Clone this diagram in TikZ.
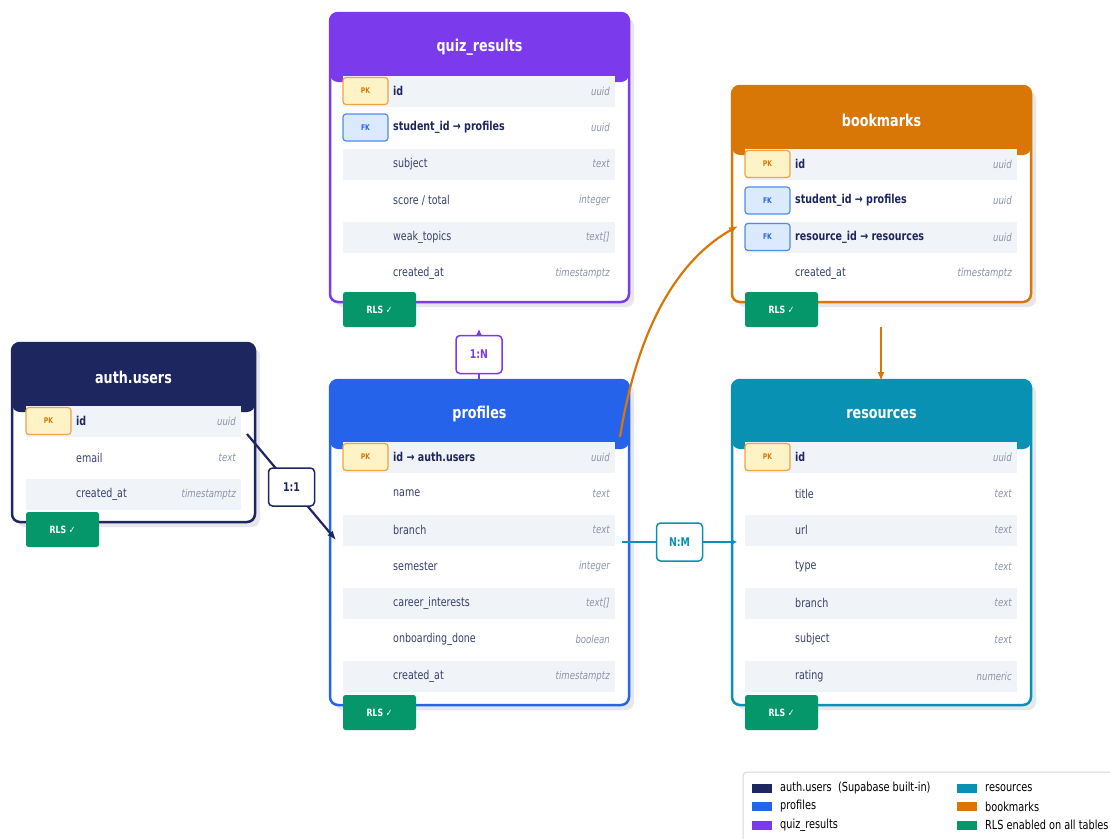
\documentclass[tikz,border=0pt]{standalone}
\usepackage{fontspec}
\setmainfont{DejaVu Sans}[FakeStretch=0.78]
\usetikzlibrary{arrows.meta}
\definecolor{navy}{HTML}{1E2660}
\definecolor{purp}{HTML}{7C3AED}
\definecolor{blu}{HTML}{2563EB}
\definecolor{orng}{HTML}{D97706}
\definecolor{teal}{HTML}{0891B2}
\definecolor{grn}{HTML}{059669}
\definecolor{shadowgray}{HTML}{E6E7EA}
\definecolor{shadec}{HTML}{F0F3F8}
\definecolor{fieldc}{HTML}{36426A}
\definecolor{boldc}{HTML}{1E2660}
\definecolor{typec}{HTML}{8A94AB}
\definecolor{pkfill}{HTML}{FEF3C7}
\definecolor{pkdraw}{HTML}{F0A443}
\definecolor{pktext}{HTML}{D97706}
\definecolor{fkfill}{HTML}{DBEAFE}
\definecolor{fkdraw}{HTML}{4F8CF0}
\definecolor{fktext}{HTML}{2563EB}
\definecolor{legdraw}{HTML}{D5D8DE}
\tikzset{
  titletext/.style={text=white,font=\fontsize{16.3}{18}\selectfont\bfseries,inner sep=0},
  fieldtext/.style={anchor=west,inner sep=0,text=fieldc,font=\fontsize{12.2}{14}\selectfont},
  typetext/.style={anchor=east,inner sep=0,text=typec,font=\fontsize{11}{13}\selectfont\itshape},
  pkbadge/.style={draw=pkdraw,fill=pkfill,line width=1.2pt,rounded corners=3pt,minimum width=45pt,minimum height=27pt,inner sep=0,text=pktext,font=\fontsize{7.8}{9}\selectfont\bfseries},
  fkbadge/.style={draw=fkdraw,fill=fkfill,line width=1.2pt,rounded corners=3pt,minimum width=45pt,minimum height=27pt,inner sep=0,text=fktext,font=\fontsize{7.8}{9}\selectfont\bfseries},
  rlsbadge/.style={fill=grn,rounded corners=2.5pt,minimum width=73pt,minimum height=35pt,inner sep=0,text=white,font=\fontsize{10}{12}\selectfont\bfseries},
  relbox/.style={draw=#1,fill=white,line width=1.5pt,rounded corners=4pt,minimum width=46pt,minimum height=38pt,inner sep=0,text=#1,font=\fontsize{12}{14}\selectfont\bfseries},
  rel/.style={draw=#1,line width=2.2pt},
  tip/.style={-{Latex[length=9pt,width=7pt]}},
  legtext/.style={anchor=west,inner sep=0,text=black,font=\fontsize{12.5}{14}\selectfont},
}
\newcommand{\erdtable}[7]{%
  \fill[shadowgray,rounded corners=8pt] (#3+5,#4+5) rectangle (#5+5,#6+5);
  \draw[draw=#2,line width=2.5pt,fill=white,rounded corners=8pt] (#3,#4) rectangle (#5,#6);
  \fill[#2,rounded corners=8pt] (#3,#4) rectangle (#5,#4+69);
  \node[titletext] (#1) at ({(#3+#5)/2},#4+34) {#7};
}
\newcommand{\shaderow}[3]{\fill[shadec] (#1+13,#3-15.5) rectangle (#2-14,#3+15.5);}
\newcommand{\erdfield}[6]{%
  \node[fieldtext] (#1) at (#2+63,#4) {#5};
  \node[typetext] (#1-t) at (#3-19,#4) {#6};
}
\newcommand{\rls}[3]{\node[rlsbadge] (#1) at (#2+49.5,#3+7.5) {RLS ✓};}
\begin{document}
\begin{tikzpicture}[x=1pt,y=-1pt]
\useasboundingbox (0,0) rectangle (1110,838);
\clip (0,0) rectangle (1110,838);
\fill[white] (0,0) rectangle (1110,838);

% ---------- auth.users ----------
\erdtable{auth}{navy}{12}{343}{255}{522}{auth.users}
\shaderow{13}{255}{421}
\shaderow{13}{255}{494}
\node[pkbadge] (auth-pk) at (48.5,421) {PK};
\erdfield{auth-id}{13}{255}{421}{\bfseries\color{boldc}id}{uuid}
\erdfield{auth-email}{13}{255}{457.5}{email}{text}
\erdfield{auth-cr}{13}{255}{494}{created\_at}{timestamptz}
\rls{auth-rls}{13}{522}

% ---------- quiz_results ----------
\erdtable{quiz}{purp}{330}{13}{629}{302}{quiz\_results}
\shaderow{330}{629}{91}
\shaderow{330}{629}{164}
\shaderow{330}{629}{237}
\node[pkbadge] (quiz-pk) at (365.5,91) {PK};
\node[fkbadge] (quiz-fk) at (365.5,127.5) {FK};
\erdfield{quiz-id}{330}{629}{91}{\bfseries\color{boldc}id}{uuid}
\erdfield{quiz-sid}{330}{629}{127.5}{\bfseries\color{boldc}student\_id → profiles}{uuid}
\erdfield{quiz-sub}{330}{629}{164}{subject}{text}
\erdfield{quiz-sc}{330}{629}{200.5}{score / total}{integer}
\erdfield{quiz-wt}{330}{629}{237}{weak\_topics}{text[]}
\erdfield{quiz-cr}{330}{629}{273.5}{created\_at}{timestamptz}
\rls{quiz-rls}{330}{302}

% ---------- profiles ----------
\erdtable{prof}{blu}{330}{380}{629}{705}{profiles}
\shaderow{330}{629}{457}
\shaderow{330}{629}{530}
\shaderow{330}{629}{603}
\shaderow{330}{629}{676}
\node[pkbadge] (prof-pk) at (365.5,457) {PK};
\erdfield{prof-id}{330}{629}{457}{\bfseries\color{boldc}id → auth.users}{uuid}
\erdfield{prof-name}{330}{629}{493.5}{name}{text}
\erdfield{prof-br}{330}{629}{530}{branch}{text}
\erdfield{prof-sem}{330}{629}{566.5}{semester}{integer}
\erdfield{prof-ci}{330}{629}{603}{career\_interests}{text[]}
\erdfield{prof-od}{330}{629}{639.5}{onboarding\_done}{boolean}
\erdfield{prof-cr}{330}{629}{676}{created\_at}{timestamptz}
\rls{prof-rls}{330}{705}

% ---------- bookmarks ----------
\erdtable{book}{orng}{732}{86}{1031}{302}{bookmarks}
\shaderow{732}{1031}{164}
\shaderow{732}{1031}{237}
\node[pkbadge] (book-pk) at (767.5,164) {PK};
\node[fkbadge] (book-fk1) at (767.5,200.5) {FK};
\node[fkbadge] (book-fk2) at (767.5,237) {FK};
\erdfield{book-id}{732}{1031}{164}{\bfseries\color{boldc}id}{uuid}
\erdfield{book-sid}{732}{1031}{200.5}{\bfseries\color{boldc}student\_id → profiles}{uuid}
\erdfield{book-rid}{732}{1031}{237}{\bfseries\color{boldc}resource\_id → resources}{uuid}
\erdfield{book-cr}{732}{1031}{273.5}{created\_at}{timestamptz}
\rls{book-rls}{732}{302}

% ---------- resources ----------
\erdtable{res}{teal}{732}{380}{1031}{705}{resources}
\shaderow{732}{1031}{457}
\shaderow{732}{1031}{530}
\shaderow{732}{1031}{603}
\shaderow{732}{1031}{676}
\node[pkbadge] (res-pk) at (767.5,457) {PK};
\erdfield{res-id}{732}{1031}{457}{\bfseries\color{boldc}id}{uuid}
\erdfield{res-ti}{732}{1031}{493.5}{title}{text}
\erdfield{res-url}{732}{1031}{530}{url}{text}
\erdfield{res-ty}{732}{1031}{566.5}{type}{text}
\erdfield{res-br}{732}{1031}{603}{branch}{text}
\erdfield{res-sub}{732}{1031}{639.5}{subject}{text}
\erdfield{res-ra}{732}{1031}{676}{rating}{numeric}
\rls{res-rls}{732}{705}

% ---------- connectors ----------
\coordinate (c11a) at (247,434);
\coordinate (c11b) at (336,540);
\draw[rel=navy,tip] (c11a) -- (c11b) node[pos=0.5,relbox=navy] (r11) {1:1};

\coordinate (c1na) at (479,380);
\coordinate (c1nb) at (479,329);
\draw[rel=purp,-{Latex[length=7pt,width=7pt]}] (c1na) -- (c1nb) node[pos=0.5,relbox=purp] (r1n) {1:N};

\coordinate (cpba) at (620,437);
\coordinate (cpbb) at (738,226);
\draw[rel=orng,tip] (cpba) .. controls (637,331) and (676,261) .. (cpbb);

\coordinate (cbra) at (881,327);
\coordinate (cbrb) at (881,381);
\draw[rel=orng,tip] (cbra) -- (cbrb);

\coordinate (cnma) at (622,542);
\coordinate (cnmb) at (737,542);
\draw[rel=teal,-{Latex[length=6pt,width=7pt]}] (cnma) -- (cnmb) node[pos=0.5,relbox=teal] (rnm) {N:M};

% ---------- legend ----------
\draw[legdraw,line width=1pt,fill=white,rounded corners=4pt] (743,772) rectangle (1130,860);
\fill[navy] (752,783.5) rectangle (772,792.5);
\node[legtext] (l1) at (780,788) {auth.users\ \ (Supabase built-in)};
\fill[blu] (752,802) rectangle (772,811);
\node[legtext] (l2) at (780,806.5) {profiles};
\fill[purp] (752,820.5) rectangle (772,829.5);
\node[legtext] (l3) at (780,825) {quiz\_results};
\fill[teal] (957,783.5) rectangle (977,792.5);
\node[legtext] (l4) at (985,788) {resources};
\fill[orng] (957,802) rectangle (977,811);
\node[legtext] (l5) at (985,806.5) {bookmarks};
\fill[grn] (957,820.5) rectangle (977,829.5);
\node[legtext] (l6) at (985,825) {RLS enabled on all tables};
\end{tikzpicture}
\end{document}
